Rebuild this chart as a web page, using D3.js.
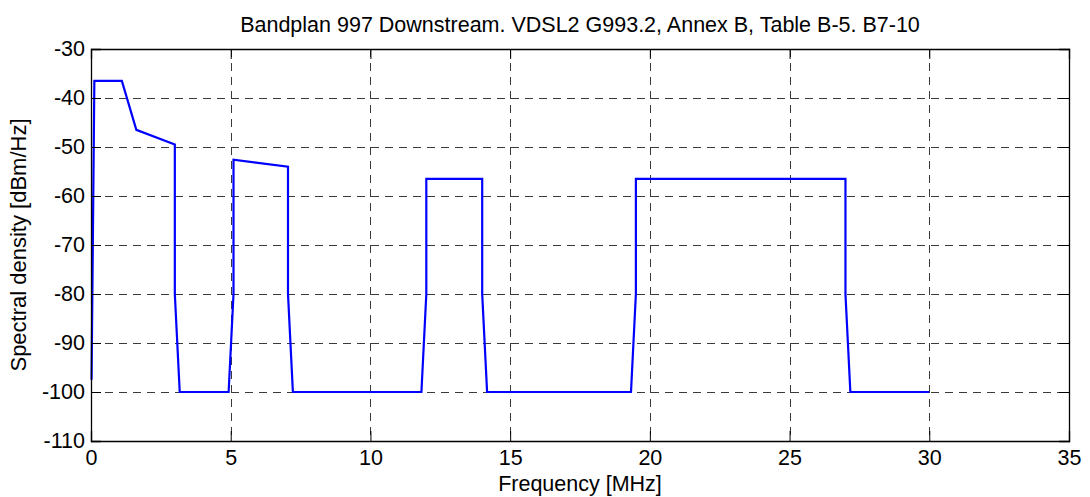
<!DOCTYPE html>
<html><head><meta charset="utf-8">
<script src="https://cdn.jsdelivr.net/npm/d3@7"></script>
<style>
html,body{margin:0;padding:0;background:#fff;}
svg{display:block;font-family:"Liberation Sans",Arial,sans-serif;}
</style></head>
<body>
<svg id="chart" width="1090" height="497"></svg>
<script>
const freqMHz = [0.02, 0.12, 1.104, 1.622, 3.0, 3.0, 3.175, 4.925, 5.1, 5.1, 7.05, 7.05, 7.225, 11.825, 12.0, 12.0, 14.0, 14.0, 14.175, 19.325, 19.5, 19.5, 27.0, 27.0, 27.175, 30.0];
const psdDbm = [-97.5, -36.5, -36.5, -46.5, -49.5, -80, -100, -100, -80, -52.6, -54.0, -80, -100, -100, -80, -56.5, -56.5, -80, -100, -100, -80, -56.5, -56.5, -80, -100, -100];
const xTicks = [0, 5, 10, 15, 20, 25, 30, 35];
const yTicks = [-30, -40, -50, -60, -70, -80, -90, -100, -110];
const titleText = "Bandplan 997 Downstream. VDSL2 G993.2, Annex B, Table B-5. B7-10";
const xLabel = "Frequency [MHz]";
const yLabel = "Spectral density [dBm/Hz]";

const FONT = '"Liberation Sans",Arial,sans-serif';
const svg = d3.select("#chart");
const L = 91, R = 1069, T = 49, B = 441;
const x = d3.scaleLinear().domain([0, 35]).range([L, R]);
const y = d3.scaleLinear().domain([-110, -30]).range([B, T]);

// grid
const gridColor = "#3a3a3a", dash = "8,6";
const g = svg.append("g");
g.selectAll(".vg").data(xTicks.filter(d => d > 0 && d < 35)).join("line")
  .attr("x1", d => Math.round(x(d)) + 0.5).attr("x2", d => Math.round(x(d)) + 0.5)
  .attr("y1", T).attr("y2", B)
  .attr("stroke", gridColor).attr("stroke-width", 1).attr("stroke-dasharray", dash);
g.selectAll(".hg").data(yTicks.filter(d => d > -110 && d < -30)).join("line")
  .attr("y1", d => Math.round(y(d)) + 0.5).attr("y2", d => Math.round(y(d)) + 0.5)
  .attr("x1", L).attr("x2", R)
  .attr("stroke", gridColor).attr("stroke-width", 1).attr("stroke-dasharray", dash);

// data line
const line = d3.line().x((d, i) => x(freqMHz[i])).y((d, i) => y(psdDbm[i]));
svg.append("path").datum(psdDbm).attr("d", line)
  .attr("fill", "none").attr("stroke", "#0000ff").attr("stroke-width", 2.2).attr("stroke-linejoin", "miter");

// axes with inward ticks
const tl = 10;
const fmt = d => String(d);
const xb = d3.axisBottom(x).tickValues(xTicks).tickSize(-tl).tickPadding(9).tickFormat(fmt);
const xt = d3.axisTop(x).tickValues(xTicks).tickSize(-tl).tickFormat("");
const yl = d3.axisLeft(y).tickValues(yTicks).tickSize(-tl).tickPadding(6).tickFormat(fmt);
const yr = d3.axisRight(y).tickValues(yTicks).tickSize(-tl).tickFormat("");
function style(sel) {
  sel.select(".domain").attr("stroke", "#000").attr("stroke-width", 1.3);
  sel.selectAll(".tick line").attr("stroke", "#000");
  sel.selectAll("text").attr("fill", "#000").style("font-size", "21.5px").style("font-family", FONT);
}
svg.append("g").attr("transform", `translate(0,${B})`).call(xb).call(style);
svg.append("g").attr("transform", `translate(0,${T})`).call(xt).call(style);
svg.append("g").attr("transform", `translate(${L},0)`).call(yl).call(style);
svg.append("g").attr("transform", `translate(${R},0)`).call(yr).call(style);

svg.append("text").attr("x", (L + R) / 2).attr("y", 32).attr("text-anchor", "middle")
  .style("font-size", "21.5px").style("font-family", FONT).text(titleText);
svg.append("text").attr("x", (L + R) / 2).attr("y", 491).attr("text-anchor", "middle")
  .style("font-size", "21.5px").style("font-family", FONT).text(xLabel);
svg.append("text").attr("transform", `translate(26,${(T + B) / 2}) rotate(-90)`).attr("text-anchor", "middle")
  .style("font-size", "22px").style("font-family", FONT).text(yLabel);
</script>
</body></html>
